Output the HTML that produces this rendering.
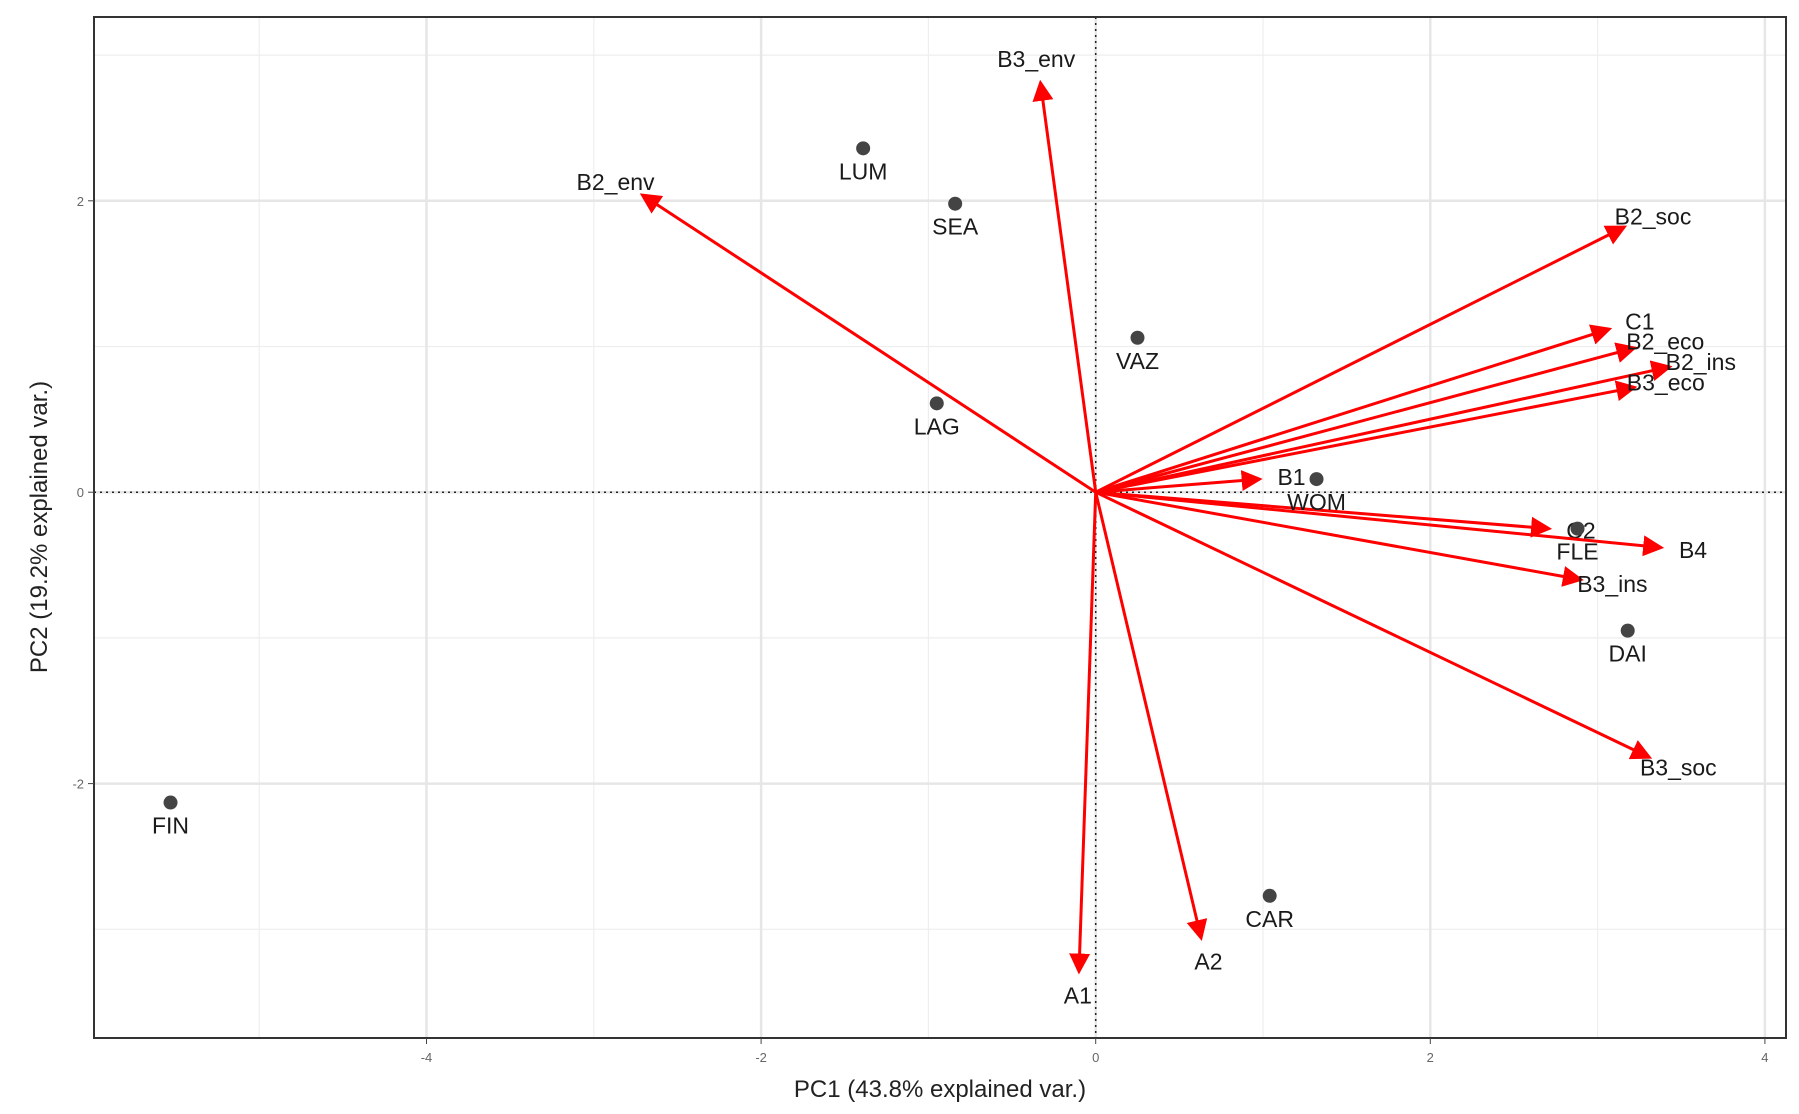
<!DOCTYPE html>
<html><head><meta charset="utf-8"><style>
html,body{margin:0;padding:0;background:#fff;}
svg{display:block;font-family:"Liberation Sans",Arial,sans-serif;}
</style></head><body>
<svg id="chart" width="1799" height="1114" viewBox="0 0 1799 1114" xmlns="http://www.w3.org/2000/svg">
<defs><marker id="ah" markerWidth="7" markerHeight="7" refX="6" refY="3.5" orient="auto" markerUnits="strokeWidth"><path d="M0,0 L7,3.5 L0,7 z" fill="#ff0000"/></marker></defs>
<g id="grid"></g>
<g id="refs"></g>
<g id="arrows"></g>
<g id="points"></g>
<rect x="94" y="17" width="1692" height="1021" fill="none" stroke="#333" stroke-width="2"/>
<g id="ticks"></g>
<text x="940" y="1097" font-size="24" text-anchor="middle" fill="#222">PC1 (43.8% explained var.)</text>
<text transform="translate(47,527) rotate(-90)" font-size="24" text-anchor="middle" fill="#222">PC2 (19.2% explained var.)</text>
</svg>
<script>
const obsNames = ["LUM","SEA","VAZ","LAG","WOM","FLE","DAI","FIN","CAR"];
const obsX = [-1.39,-0.84,0.25,-0.95,1.32,2.88,3.18,-5.53,1.04];
const obsY = [2.36,1.98,1.06,0.61,0.09,-0.25,-0.95,-2.13,-2.77];
const varNames = ["B3_env","B2_env","B2_soc","C1","B2_eco","B2_ins","B3_eco","B1","C2","B4","B3_ins","B3_soc","A2","A1"];
const varX = [-0.33,-2.71,3.16,3.07,3.22,3.43,3.22,0.98,2.71,3.38,2.90,3.31,0.63,-0.10];
const varY = [2.81,2.04,1.82,1.12,0.99,0.86,0.72,0.09,-0.25,-0.38,-0.60,-1.82,-3.06,-3.29];
const xTicks = [-4,-2,0,2,4];
const yTicks = [-2,0,2];
const xMinor = [-5,-3,-1,1,3];
const yMinor = [-3,-1,1,3];

const L=94,R=1786,T=17,B=1038;
const X0=1095.7,XS=167.3,Y0=492.2,YS=145.7;
const sx=v=>X0+v*XS, sy=v=>Y0-v*YS;
const NS="http://www.w3.org/2000/svg";
function mk(tag,attrs,parent){const e=document.createElementNS(NS,tag);for(const k in attrs)e.setAttribute(k,attrs[k]);parent.appendChild(e);return e;}
const grid=document.getElementById('grid'),refs=document.getElementById('refs'),arrows=document.getElementById('arrows'),points=document.getElementById('points'),ticks=document.getElementById('ticks');

xMinor.forEach(v=>{const e=mk('line',{x1:sx(v),x2:sx(v),y1:T,y2:B,stroke:'#eeeeee','stroke-width':1.2},grid);

});
yMinor.forEach(v=>{const e=mk('line',{x1:L,x2:R,y1:sy(v),y2:sy(v),stroke:'#eeeeee','stroke-width':1.2},grid);

});
xTicks.forEach(v=>{const e=mk('line',{x1:sx(v),x2:sx(v),y1:T,y2:B,stroke:'#e6e6e6','stroke-width':2.5},grid);


const t=mk('line',{x1:sx(v),x2:sx(v),y1:B,y2:B+6,stroke:'#444','stroke-width':1},ticks);


const l=mk('text',{x:sx(v),y:B+24,'font-size':13,'text-anchor':'middle',fill:'#666'},ticks);l.textContent=v;

});
yTicks.forEach(v=>{const e=mk('line',{x1:L,x2:R,y1:sy(v),y2:sy(v),stroke:'#e6e6e6','stroke-width':2.5},grid);


const t=mk('line',{x1:L-6,x2:L,y1:sy(v),y2:sy(v),stroke:'#444','stroke-width':1},ticks);


const l=mk('text',{x:L-10,y:sy(v)+5,'font-size':13,'text-anchor':'end',fill:'#666'},ticks);l.textContent=v;

});

const h=mk('line',{x1:L,x2:R,y1:sy(0),y2:sy(0),stroke:'#222','stroke-width':1.5,'stroke-dasharray':'2,4'},refs);


const vline=mk('line',{x1:sx(0),x2:sx(0),y1:T,y2:B,stroke:'#222','stroke-width':1.5,'stroke-dasharray':'2,4'},refs);



varNames.forEach((n,i)=>{
 const x2=sx(varX[i]),y2=sy(varY[i]);
 const a=mk('line',{x1:sx(0),y1:sy(0),x2:x2,y2:y2,stroke:'#ff0000','stroke-width':3,'marker-end':'url(#ah)'},arrows);
 
 
 const dx=x2-sx(0),dy=y2-sy(0),len=Math.hypot(dx,dy);
 const t=mk('text',{x:x2+dx/len*32,y:y2+dy/len*24+8,'font-size':23,'text-anchor':'middle',fill:'#1a1a1a'},arrows);
 t.textContent=n;
 
 
});
obsNames.forEach((n,i)=>{
 const c=mk('circle',{cx:sx(obsX[i]),cy:sy(obsY[i]),r:7,fill:'#444'},points);
 
 
 const t=mk('text',{x:sx(obsX[i]),y:sy(obsY[i])+31,'font-size':23,'text-anchor':'middle',fill:'#1a1a1a'},points);
 t.textContent=n;
 
 
});
</script>
</body></html>
